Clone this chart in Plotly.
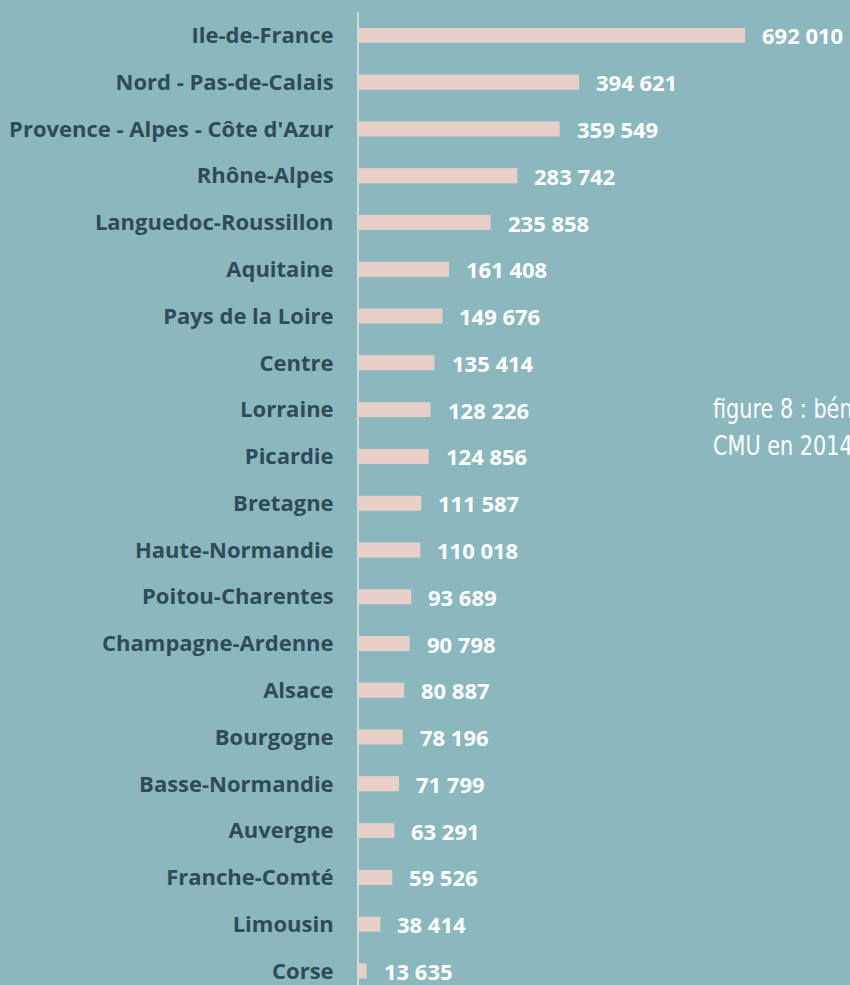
import plotly.graph_objects as go

regions = ["Ile-de-France", "Nord - Pas-de-Calais", "Provence - Alpes - Côte d'Azur",
           "Rhône-Alpes", "Languedoc-Roussillon", "Aquitaine", "Pays de la Loire",
           "Centre", "Lorraine", "Picardie", "Bretagne", "Haute-Normandie",
           "Poitou-Charentes", "Champagne-Ardenne", "Alsace", "Bourgogne",
           "Basse-Normandie", "Auvergne", "Franche-Comté", "Limousin", "Corse"]
beneficiaires = [692010, 394621, 359549, 283742, 235858, 161408, 149676,
                 135414, 128226, 124856, 111587, 110018, 93689, 90798,
                 80887, 78196, 71799, 63291, 59526, 38414, 13635]
value_labels = ["692 010", "394 621", "359 549", "283 742", "235 858", "161 408",
                "149 676", "135 414", "128 226", "124 856", "111 587", "110 018",
                "93 689", "90 798", "80 887", "78 196", "71 799", "63 291",
                "59 526", "38 414", "13 635"]
title_lines = ["figure 8 : bénéficiaires de la", "CMU en 2014 selon les régions"]

BG = "#8BB8BE"
BAR = "#E8D0C8"
DARK = "#2F4B5A"
FONT = "Open Sans"
TITLE_FONT = "DejaVu Sans"

fig = go.Figure()
fig.add_trace(go.Bar(
    x=beneficiaires, y=regions, orientation="h",
    marker=dict(color=BAR, line=dict(width=0)),
    hoverinfo="skip",
))

for r, v, t in zip(regions, beneficiaires, value_labels):
    fig.add_annotation(x=v, y=r, text=t, showarrow=False, xanchor="left",
                       xshift=15, yshift=0,
                       font=dict(family=FONT, size=22, color="white", weight="bold"))

fig.add_annotation(xref="paper", yref="paper", x=0.7165, y=0.593, xanchor="left",
                   yanchor="middle", showarrow=False, text=title_lines[0],
                   font=dict(family=TITLE_FONT, size=27, color="white"))
fig.add_annotation(xref="paper", yref="paper", x=0.7165, y=0.554, xanchor="left",
                   yanchor="middle", showarrow=False, text=title_lines[1],
                   font=dict(family=TITLE_FONT, size=27, color="white"))

fig.update_layout(
    width=850, height=985,
    margin=dict(l=359, r=0, t=12, b=0),
    paper_bgcolor=BG, plot_bgcolor=BG,
    bargap=0.68,
    showlegend=False,
    xaxis=dict(range=[0, 880200], visible=False, showgrid=False, zeroline=False),
    yaxis=dict(type="category", range=[20.3, -0.5], showgrid=False, zeroline=False,
               showline=True, linecolor="#D8D8D8", linewidth=2,
               ticks="", ticklabelstandoff=19,
               tickfont=dict(family=FONT, size=22, color=DARK, weight="bold")),
)

post = (
    "document.body.style.margin='0';document.body.style.overflow='hidden';"
    "document.querySelectorAll('text.annotation-text').forEach(function(t){"
    "if(t.textContent.indexOf('figure 8')===0||t.textContent.indexOf('CMU en')===0){"
    "var b=t.getBBox();var w=t.getComputedTextLength();"
    "t.setAttribute('text-anchor','start');t.style.textAnchor='start';"
    "t.setAttribute('x',String(b.x));"
    "t.setAttribute('lengthAdjust','spacingAndGlyphs');"
    "t.setAttribute('textLength',String(w*0.77));}});"
)
fig.write_html("out.html", post_script=post, config={"displayModeBar": False})
